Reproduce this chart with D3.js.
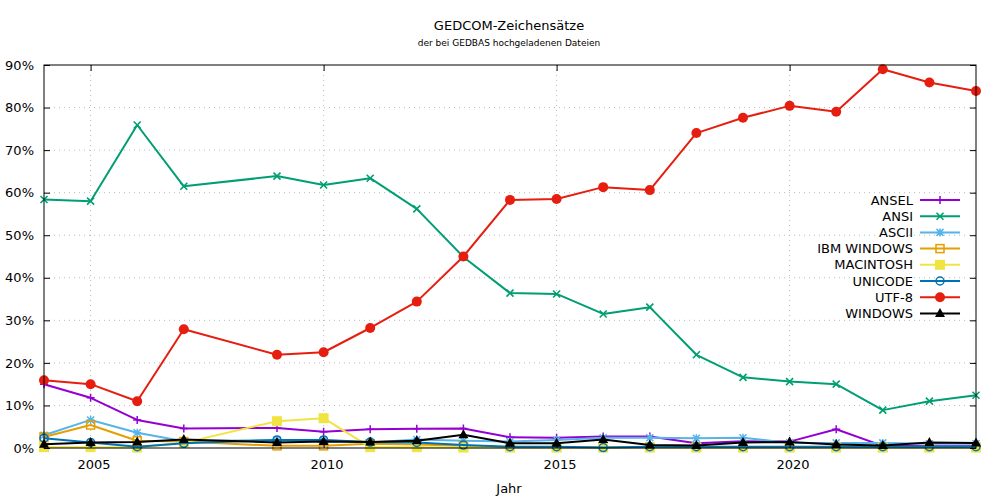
<!DOCTYPE html>
<html><head><meta charset="utf-8">
<script src="https://cdn.jsdelivr.net/npm/d3@7"></script>
<style>
body{margin:0;background:#fff;}
text{font-family:"DejaVu Sans",Verdana,sans-serif;fill:#000;}
</style></head>
<body><svg id="c" width="1000" height="500"></svg>
<script>
const years = [2004,2005,2006,2007,2009,2010,2011,2012,2013,2014,2015,2016,2017,2018,2019,2020,2021,2022,2023,2024];
const seriesNames = ["ANSEL","ANSI","ASCII","IBM WINDOWS","MACINTOSH","UNICODE","UTF-8","WINDOWS"];
const ansel   = [15.0,11.8,6.6,4.6,4.7,3.8,4.4,4.5,4.6,2.5,2.4,2.7,2.7,1.1,1.6,1.5,4.4,0.5,0.4,0.4];
const ansi    = [58.4,58.0,75.9,61.5,63.9,61.8,63.4,56.2,44.9,36.4,36.2,31.5,33.1,21.9,16.6,15.6,15.0,8.9,11.0,12.4];
const ascii   = [3.0,6.6,3.6,1.6,1.9,1.8,1.3,2.0,1.7,1.5,1.9,2.4,2.4,2.3,2.4,1.2,1.2,1.2,1.0,1.0];
const ibm     = [2.6,5.4,1.7,1.5,0.5,0.5,1.0,0.8,0.5,0.2,0.2,0.2,0.2,0.2,0.2,0.2,0.2,0.2,0.2,0.2];
const mac     = [0.2,0.2,0.1,1.2,6.3,7.0,0.2,0.2,0.1,0.1,0.1,0.1,0.1,0.1,0.1,0.1,0.1,0.1,0.1,0.1];
const unicode = [2.3,1.3,0.3,1.1,1.9,1.9,1.4,1.3,0.7,0.3,0.3,0.1,0.3,0.3,0.3,0.3,0.3,0.3,0.3,0.3];
const utf8    = [15.9,15.0,11.0,27.9,21.9,22.5,28.2,34.4,45.0,58.3,58.5,61.3,60.6,74.0,77.6,80.4,79.0,89.0,85.9,83.9];
const windows = [0.9,1.3,1.4,2.0,1.3,1.5,1.4,1.7,3.1,1.1,1.1,2.0,0.7,0.6,1.3,1.4,0.8,0.6,1.3,1.2];
const xTicks = [2005,2010,2015,2020];
const yTicks = [0,10,20,30,40,50,60,70,80,90];

const seriesValues = [ansel,ansi,ascii,ibm,mac,unicode,utf8,windows];
const colors = ["#9400d3","#009e73","#56b4e9","#e69f00","#f0e442","#0072b2","#e51e10","#000000"];
const markers = ["plus","cross","star","osquare","fsquare","ocircle","fcircle","ftriangle"];

const svg = d3.select("#c");
const L=44,R=976,T=65,B=448;
const x = d3.scaleLinear().domain([2004,2024]).range([L,R]);
const y = d3.scaleLinear().domain([0,90]).range([B,T]);

// grid
const g = svg.append("g");
g.selectAll(".gy").data(yTicks.filter(v=>v>0&&v<90)).enter().append("line")
 .attr("x1",L).attr("x2",R).attr("y1",d=>y(d)).attr("y2",d=>y(d))
 .attr("stroke","#bbb").attr("stroke-width",1).attr("stroke-dasharray","1,4");
g.selectAll(".gx").data(xTicks).enter().append("line")
 .attr("y1",T).attr("y2",B).attr("x1",d=>x(d)).attr("x2",d=>x(d))
 .attr("stroke","#bbb").attr("stroke-width",1).attr("stroke-dasharray","1,4");

const axL = d3.axisLeft(y).tickValues(yTicks).tickSize(-6).tickPadding(10).tickFormat(d=>d+"%");
const axR = d3.axisRight(y).tickValues(yTicks).tickSize(-6).tickFormat("");
const axB = d3.axisBottom(x).tickValues(xTicks).tickSize(-6).tickPadding(12).tickFormat(d3.format("d"));
const axT = d3.axisTop(x).tickValues(xTicks).tickSize(-6).tickFormat("");

const line = d3.line().x((d,i)=>x(years[i])).y(d=>y(d));

function marker(sel, type, color){
  if(type==="plus"){
    sel.append("path").attr("d","M-4,0H4M0,-4V4").attr("stroke",color).attr("stroke-width",1.5).attr("fill","none");
  } else if(type==="cross"){
    sel.append("path").attr("d","M-3.5,-3.5L3.5,3.5M-3.5,3.5L3.5,-3.5").attr("stroke",color).attr("stroke-width",1.6).attr("fill","none");
  } else if(type==="star"){
    sel.append("path").attr("d","M-4,0H4M0,-4V4M-3.5,-3.5L3.5,3.5M-3.5,3.5L3.5,-3.5").attr("stroke",color).attr("stroke-width",1.5).attr("fill","none");
  } else if(type==="osquare"){
    sel.append("rect").attr("x",-4).attr("y",-4).attr("width",8).attr("height",8).attr("stroke",color).attr("stroke-width",1.5).attr("fill","none");
  } else if(type==="fsquare"){
    sel.append("rect").attr("x",-5).attr("y",-5).attr("width",10).attr("height",10).attr("fill",color);
  } else if(type==="ocircle"){
    sel.append("circle").attr("r",4).attr("stroke",color).attr("stroke-width",1.5).attr("fill","none");
  } else if(type==="fcircle"){
    sel.append("circle").attr("r",5).attr("fill",color);
  } else if(type==="ftriangle"){
    sel.append("path").attr("d","M0,-5.5L5,3.5L-5,3.5Z").attr("fill",color);
  }
}

seriesValues.forEach((vals,k)=>{
  const sg = svg.append("g");
  sg.append("path").datum(vals).attr("d",line).attr("fill","none")
    .attr("stroke",colors[k]).attr("stroke-width",2).attr("stroke-linejoin","round");
  vals.forEach((v,i)=>{
    const m = sg.append("g").attr("transform",`translate(${x(years[i])},${y(v)})`);
    marker(m, markers[k], colors[k]);
  });
});

svg.append("rect").attr("x",L).attr("y",T).attr("width",R-L).attr("height",B-T)
  .attr("fill","none").attr("stroke","#000").attr("stroke-width",1);

function styleAxis(gax){
  gax.select(".domain").remove();
  gax.selectAll("line").attr("stroke","#000");
  gax.selectAll("text").attr("font-size","13px").attr("font-family","\"DejaVu Sans\",Verdana,sans-serif");
}
svg.append("g").attr("transform",`translate(${L},0)`).call(axL).call(styleAxis);
svg.append("g").attr("transform",`translate(${R},0)`).call(axR).call(styleAxis);
svg.append("g").attr("transform",`translate(0,${B})`).call(axB).call(styleAxis).selectAll("text").attr("dx",3);
svg.append("g").attr("transform",`translate(0,${T})`).call(axT).call(styleAxis);

svg.append("text").attr("x",509).attr("y",30).attr("text-anchor","middle").attr("font-size","13px").text("GEDCOM-Zeichensätze");
svg.append("text").attr("x",509).attr("y",46).attr("text-anchor","middle").attr("font-size","9px").text("der bei GEDBAS hochgeladenen Dateien");
svg.append("text").attr("x",509).attr("y",493).attr("text-anchor","middle").attr("font-size","13px").text("Jahr");

const lg = svg.append("g");
seriesNames.forEach((name,k)=>{
  const yy = 200 + k*16.2;
  lg.append("text").attr("x",913).attr("y",yy+4.5).attr("text-anchor","end").attr("font-size","13px").text(name);
  lg.append("line").attr("x1",920).attr("x2",960).attr("y1",yy).attr("y2",yy).attr("stroke",colors[k]).attr("stroke-width",2);
  const m = lg.append("g").attr("transform",`translate(940,${yy})`);
  marker(m, markers[k], colors[k]);
});
</script></body></html>
